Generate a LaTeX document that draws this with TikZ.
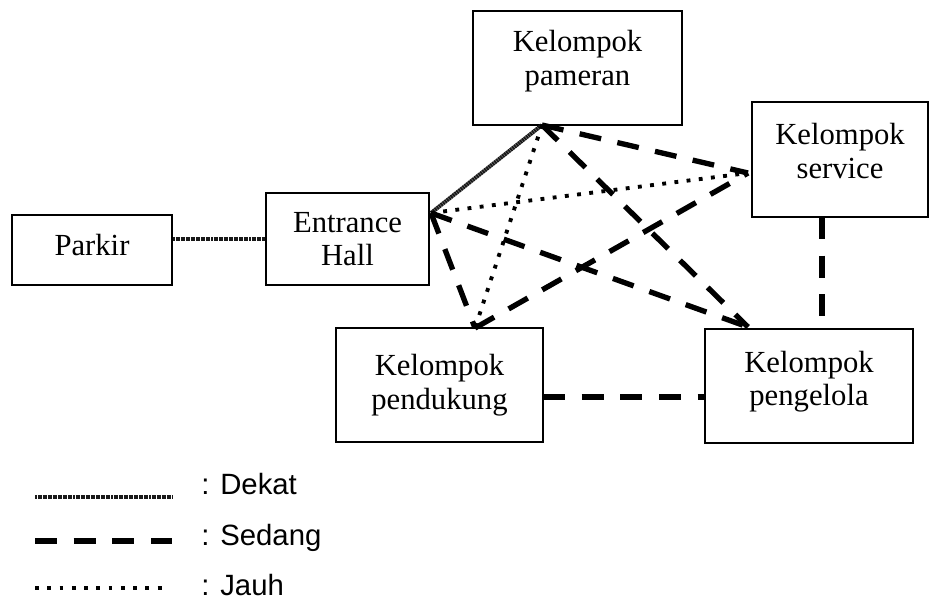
\documentclass[tikz,border=0pt]{standalone}
\usepackage{fontspec}
\setmainfont{Liberation Serif}
\newfontfamily\legendfont{Liberation Sans}

\tikzset{
  box/.style={draw, line width=1.5pt, align=center, inner sep=0pt,
    font=\fontsize{23}{25}\selectfont},
  dekat/.style={line width=3pt, black!90, dash pattern=on 1.5pt off 0.4pt},
  sedang/.style={line width=4pt, dash pattern=on 16.5pt off 12.5pt},
  jauh/.style={line width=2.9pt, dash pattern=on 2.9pt off 6.3pt},
  keterangan/.style={anchor=base west, inner sep=0pt,
    font=\legendfont\fontsize{22}{24}\selectfont}
}

\begin{document}
\begin{tikzpicture}[x=0.75pt, y=-0.75pt]
\useasboundingbox (0,0) rectangle (930,601);

%% ruang
\node[box, minimum width=120pt, minimum height=52.5pt, text depth=7.5pt] (parkir) at (92,250) {Parkir};
\node[box, minimum width=122.25pt, minimum height=69pt] (hall) at (347.5,239) {Entrance\\Hall};
\node[box, minimum width=156.75pt, minimum height=85.5pt, text depth=15pt] (pameran) at (577.5,68) {Kelompok\\pameran};
\node[box, minimum width=132pt, minimum height=86.25pt, text depth=13pt] (service) at (840,159.5) {Kelompok\\service};
\node[box, minimum width=155.25pt, minimum height=85.5pt] (pendukung) at (439.5,385) {Kelompok\\pendukung};
\node[box, minimum width=156pt, minimum height=85.5pt, text depth=11pt] (pengelola) at (809,386) {Kelompok\\pengelola};

%% titik temu garis
\coordinate (hall-hub) at (431,213);
\coordinate (pameran-hub) at (542,125);
\coordinate (service-hub) at (748,173);
\coordinate (pendukung-hub) at (475,328);
\coordinate (pengelola-hub) at (748,327);
\coordinate (service-bawah) at (822,217);
\coordinate (pendukung-kanan) at (543,397);

%% hubungan
\draw[dekat] (parkir.east |- hall.west) -- (hall.west);
\draw[dekat] (hall-hub) -- (pameran-hub);
\draw[jauh] (hall-hub) -- (service-hub);
\draw[jauh] (pameran-hub) -- (pendukung-hub);
\draw[sedang] (hall-hub) -- (pendukung-hub);
\draw[sedang] (hall-hub) -- (pengelola-hub);
\draw[sedang] (pameran-hub) -- (service-hub);
\draw[sedang] (pameran-hub) -- (pengelola-hub);
\draw[sedang] (pendukung-hub) -- (service-hub);
\draw[sedang] (service-bawah) -- (service-bawah |- pengelola.north);
\draw[sedang] (pendukung-kanan) -- (pendukung-kanan -| pengelola.west);

%% keterangan
\coordinate (k1) at (35,497);
\coordinate (k2) at (35,541);
\coordinate (k3) at (35,588);
\node[keterangan] (dekat) at (201,494) {: Dekat};
\node[keterangan] (sedang) at (201,545) {: Sedang};
\node[keterangan] (jauh) at (201,595) {: Jauh};
\draw[dekat] (k1) -- ++(137,0);
\draw[sedang] (k2) -- ++(137,0);
\draw[jauh] (k3) -- ++(133,0);
\end{tikzpicture}
\end{document}
